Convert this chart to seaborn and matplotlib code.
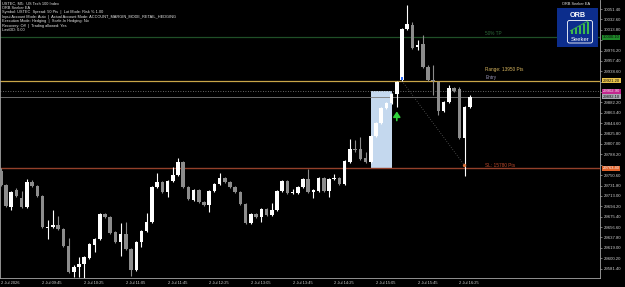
import numpy as np
import pandas as pd
import matplotlib
matplotlib.use("Agg")
import matplotlib.pyplot as plt
import seaborn as sns
from matplotlib.patches import Rectangle, FancyBboxPatch

# ---------------- data ----------------
opens = [29758.1, 29732.8, 29692.9, 29723.7, 29709.2, 29692.9, 29738.2, 29730.9, 29712.8, 29655.8,
         29656.7, 29660.4, 29653.1, 29622.3, 29575.3, 29584.3, 29589.7, 29600.6, 29624.1, 29635.0,
         29680.3, 29674.8, 29647.7, 29629.6, 29644.1, 29616.9, 29578.9, 29629.6, 29649.5, 29665.8,
         29729.1, 29738.2, 29720.1, 29740.0, 29750.9, 29774.4, 29729.1, 29705.6, 29723.7, 29702.0,
         29696.6, 29721.9, 29734.6, 29745.4, 29738.2, 29729.1, 29720.1, 29698.4, 29664.0, 29680.3,
         29674.8, 29689.3, 29678.5, 29687.5, 29721.9, 29740.0, 29718.3, 29718.3, 29729.1, 29743.6,
         29720.1, 29721.9, 29745.4, 29721.9, 29743.6, 29745.4, 29734.6, 29774.4, 29797.9, 29797.9,
         29781.7, 29774.4, 29821.5, 29845.0, 29872.2, 29881.2, 29897.5, 29922.9, 30015.2, 30022.4,
         29983.5, 29988.0, 29946.4, 29922.9, 29919.3, 29866.7, 29883.0, 29908.4, 29906.6, 29817.9,
         29874.0]
highs = [29763.6, 29734.6, 29721.9, 29727.3, 29721.9, 29743.6, 29741.8, 29732.8, 29714.7, 29669.4,
         29687.5, 29676.6, 29654.9, 29636.8, 29587.9, 29602.4, 29604.2, 29627.8, 29636.8, 29682.1,
         29682.1, 29676.6, 29649.5, 29664.0, 29665.8, 29618.7, 29631.4, 29651.3, 29682.1, 29730.9,
         29754.5, 29740.0, 29741.8, 29765.4, 29781.7, 29776.2, 29730.9, 29725.5, 29725.5, 29703.8,
         29723.7, 29736.4, 29754.5, 29747.3, 29740.0, 29730.9, 29721.9, 29700.2, 29682.1, 29682.1,
         29691.1, 29691.1, 29700.2, 29723.7, 29741.8, 29741.8, 29725.5, 29730.9, 29745.4, 29761.7,
         29725.5, 29747.3, 29747.3, 29745.4, 29752.7, 29747.3, 29778.0, 29816.0, 29814.2, 29819.7,
         29792.5, 29823.3, 29846.8, 29874.0, 29883.0, 29899.3, 29921.1, 30017.0, 30058.6, 30027.9,
         29995.3, 30004.3, 29950.0, 29950.0, 29921.1, 29884.8, 29913.8, 29910.2, 29910.2, 29875.8,
         29895.7]
lows = [29730.9, 29692.9, 29687.5, 29711.0, 29691.1, 29691.1, 29729.1, 29711.0, 29654.9, 29635.0,
        29654.9, 29651.3, 29620.5, 29573.5, 29566.3, 29566.3, 29564.4, 29598.8, 29611.5, 29633.2,
        29673.0, 29644.1, 29627.8, 29604.2, 29615.1, 29568.1, 29577.1, 29620.5, 29647.7, 29664.0,
        29727.3, 29718.3, 29711.0, 29738.2, 29749.1, 29727.3, 29705.6, 29703.8, 29700.2, 29694.8,
        29683.9, 29720.1, 29732.8, 29736.4, 29727.3, 29718.3, 29696.6, 29662.2, 29662.2, 29673.0,
        29665.8, 29676.6, 29676.6, 29685.7, 29720.1, 29716.4, 29716.4, 29716.4, 29727.3, 29718.3,
        29709.2, 29720.1, 29720.1, 29711.0, 29741.8, 29732.8, 29732.8, 29772.6, 29792.5, 29778.0,
        29772.6, 29772.6, 29819.7, 29843.2, 29870.4, 29879.4, 29874.0, 29921.1, 30013.4, 29979.0,
        29977.2, 29944.6, 29921.1, 29895.7, 29859.5, 29864.9, 29881.2, 29901.1, 29816.0, 29749.1,
        29872.2]
closes = [29732.8, 29694.8, 29720.1, 29712.8, 29692.9, 29738.2, 29730.9, 29712.8, 29656.7, 29657.1,
          29660.4, 29653.1, 29622.3, 29575.3, 29584.3, 29589.7, 29602.4, 29626.0, 29635.0, 29680.3,
          29674.8, 29645.9, 29629.6, 29644.1, 29616.9, 29578.9, 29629.6, 29649.5, 29665.8, 29729.1,
          29738.2, 29720.1, 29740.0, 29750.9, 29774.4, 29729.1, 29707.4, 29723.7, 29702.0, 29696.6,
          29721.9, 29734.6, 29745.4, 29738.2, 29729.1, 29720.1, 29698.4, 29664.0, 29680.3, 29674.8,
          29689.3, 29678.5, 29687.5, 29721.9, 29740.0, 29718.3, 29720.1, 29729.1, 29743.6, 29720.1,
          29723.7, 29745.4, 29721.9, 29743.6, 29745.4, 29734.6, 29776.2, 29797.9, 29796.1, 29779.8,
          29774.4, 29821.5, 29845.0, 29872.2, 29881.2, 29897.5, 29919.3, 30015.2, 30024.3, 29980.8,
          29986.2, 29946.4, 29922.9, 29920.2, 29866.7, 29883.0, 29908.4, 29903.0, 29817.9, 29874.0,
          29892.1]

x_tick_bars = [0, 8, 16, 24, 32, 40, 48, 56, 64, 72, 80, 88]
x_tick_labels = ["2 Jul 2026", "2 Jul 09:45", "2 Jul 10:25", "2 Jul 11:05", "2 Jul 11:45",
                 "2 Jul 12:25", "2 Jul 13:05", "2 Jul 13:45", "2 Jul 14:25", "2 Jul 15:05",
                 "2 Jul 15:45", "2 Jul 16:25"]
y_ticks = [29581.4, 29600.2, 29619.0, 29637.8, 29656.6, 29675.4, 29694.2, 29713.0, 29731.8,
           29750.6, 29769.4, 29788.2, 29807.0, 29825.8, 29844.6, 29863.4, 29882.2, 29901.0,
           29919.8, 29938.6, 29957.4, 29976.2, 29995.0, 30013.8, 30032.6, 30051.4]

range_high = 29902.9
range_low = 29763.4
range_bars = [71, 75]
entry_price = 29921.2
sl_price = 29763.4
tp_price = 30000.1
bid_price = 29892.1
entry_bar = 77
exit_bar = 89
exit_price = 29768.0
signal_bar = 76
signal_arrow = [29849.5, 29866.0]

info_lines = ["USTEC, M5:  US Tech 100 Index",
              "ORB Seeker EA",
              "Symbol: USTEC  Spread: 50 Pts  |  Lot Mode: Risk % 1.00",
              "Input Account Mode: Auto  |  Actual Account Mode: ACCOUNT_MARGIN_MODE_RETAIL_HEDGING",
              "Execution Mode: Hedging  |  Scale-In Hedging: No",
              "Recovery: Off  |  Trading allowed: Yes",
              "LastDD: 0.00"]

# ---------------- style ----------------
sns.set_theme(style="dark")
plt.rcParams["font.family"] = ["Liberation Sans", "DejaVu Sans"]

W, H = 625, 287
fig = plt.figure(figsize=(W / 100, H / 100), dpi=100, facecolor="black")
ax = fig.add_axes([0, (H - 277.5) / H, 600 / W, 277.5 / H])
ax.set_facecolor("black")

df = pd.DataFrame({"open": opens, "high": highs, "low": lows, "close": closes})
df["bar"] = np.arange(len(df))
bull = df["close"] >= df["open"]
bull_col, bear_col = "#ffffff", "#8c8c8c"
cols = np.where(bull, bull_col, bear_col)

# range box
ax.add_patch(Rectangle((range_bars[0], range_low), range_bars[1] - range_bars[0],
                       range_high - range_low, facecolor="#c4d8ee", edgecolor="none", zorder=1))

# level lines
ax.axhline(tp_price, color="#1f4f27", lw=0.9, zorder=2)
ax.axhline(entry_price, color="#c9a648", lw=0.9, zorder=2)
ax.axhline(range_high, color="#8a8a8a", lw=0.6, ls=(0, (1, 2)), zorder=2)
ax.axhline(bid_price, color="#7a7a7a", lw=0.6, zorder=2)
ax.axhline(sl_price, color="#93402a", lw=1.0, zorder=2)

# trade path
ax.plot([entry_bar, exit_bar], [entry_price, exit_price], color="#5a5a5a", lw=0.6,
        ls=(0, (1, 2)), zorder=2)

# candles
ax.vlines(df["bar"], df["low"], df["high"], colors=cols, lw=0.8, zorder=3)
body_low = np.minimum(df["open"], df["close"])
body_h = np.maximum(np.abs(df["close"] - df["open"]), 1.6)
ax.bar(df["bar"], body_h, bottom=body_low, width=0.68, color=cols, linewidth=0, zorder=4)

# markers
sns.scatterplot(x=[entry_bar], y=[entry_price + 4], marker="s", s=4, color="#2b6cff",
                edgecolor="none", ax=ax, zorder=5, legend=False)
sns.scatterplot(x=[exit_bar], y=[exit_price], marker="o", s=6, color="#d9703a",
                edgecolor="none", ax=ax, zorder=5, legend=False)
ax.annotate("", xy=(signal_bar, signal_arrow[1]), xytext=(signal_bar, signal_arrow[0]),
            arrowprops=dict(arrowstyle="-|>,head_length=0.45,head_width=0.3", color="#2fd13c",
                            lw=1.2, mutation_scale=7, shrinkA=0, shrinkB=0),
            zorder=5)

# labels near the levels
lab_x = 93.0
ax.text(lab_x, tp_price + 2, "50% TP", color="#2e6a3a", fontsize=3.4, va="bottom", zorder=6)
ax.text(lab_x, entry_price + 17, "Range: 13950 Pts", color="#d6b45e", fontsize=3.4, va="bottom", zorder=6)
ax.text(lab_x, entry_price + 1, "Entry", color="#9a96b8", fontsize=3.4, va="bottom", zorder=6)
ax.text(lab_x, sl_price + 1, "SL: 15780 Pts", color="#c04a2c", fontsize=3.4, va="bottom", zorder=6)

# axes limits / spines
ax.set_xlim(-0.154, 115.0)
ax.set_ylim(29565.3, 30067.7)
ax.spines["top"].set_visible(False)
for s in ["left", "bottom", "right"]:
    ax.spines[s].set_color("#a8a8a8")
    ax.spines[s].set_linewidth(0.6)
ax.grid(False)

# price boxes on the right axis (they cover the scale labels beneath them)
box_prices = [tp_price, entry_price, range_high, bid_price, sl_price]
ax.yaxis.tick_right()
ax.set_yticks(y_ticks)
ax.set_yticklabels(["" if min(abs(v - b) for b in box_prices) < 7 else f"{v:.2f}" for v in y_ticks])
ax.tick_params(axis="y", length=1.5, width=0.5, color="#a8a8a8", labelsize=3.1,
               labelcolor="#cfcfcf", pad=1.0)
ax.set_xticks(x_tick_bars)
ax.set_xticklabels(x_tick_labels)
ax.tick_params(axis="x", length=2.2, width=0.5, color="#a8a8a8", labelsize=2.9,
               labelcolor="#cfcfcf", pad=0.6)
for lbl in ax.get_xticklabels():
    lbl.set_horizontalalignment("left")
ax.set_xlabel("")
ax.set_ylabel("")

tr = ax.get_yaxis_transform()
boxes = [(tp_price, "#1f8a2a", "#0a0a0a"), (entry_price, "#e9c24a", "#101010"),
         (range_high, "#c2268e", "#f0f0f0"), (bid_price, "#a6a6b0", "#101010"),
         (sl_price, "#e0622a", "#f4f4f4")]
for price, fc, tc in boxes:
    ax.text(1.0 + 3 / 600, price, f"{price:.2f}", transform=tr, fontsize=3.0, color=tc,
            va="center", ha="left", clip_on=False, zorder=10,
            bbox=dict(boxstyle="square,pad=0.12", fc=fc, ec="none"))

# info text top-left
for k, line in enumerate(info_lines):
    fig.text(2 / W, 1 - (3.4 + 4.45 * k) / H, line, color="#e8e8e8", fontsize=2.75,
             va="center", ha="left")

# top-right EA label and logo
fig.text(562 / W, 1 - 4 / H, "ORB Seeker EA", color="#e8e8e8", fontsize=2.8, va="center", ha="left")
lax = fig.add_axes([557 / W, 1 - 47 / H, 41 / W, 39 / H])
lax.set_xlim(0, 41)
lax.set_ylim(39, 0)
lax.set_facecolor("#0c2d8c")
for s in lax.spines.values():
    s.set_visible(False)
lax.set_xticks([])
lax.set_yticks([])
lax.text(20.5, 7.5, "ORB", color="white", fontsize=5.2, fontweight="bold", ha="center", va="center")
lax.add_patch(FancyBboxPatch((10.5, 12.5), 25, 22.5, boxstyle="round,pad=0,rounding_size=2",
                             fc="none", ec="white", lw=0.6))
for j, hgt in enumerate([4, 6, 8, 10, 12]):
    lax.add_patch(Rectangle((13.5 + j * 4, 26 - hgt), 2.2, hgt, fc="#3dbb4a", ec="none"))
lax.plot([13, 31], [23, 13], color="#3dbb4a", lw=0.6)
lax.text(23, 31.5, "Seeker", color="white", fontsize=4.2, ha="center", va="center")

fig.savefig("out.png", dpi=100, facecolor="black")
